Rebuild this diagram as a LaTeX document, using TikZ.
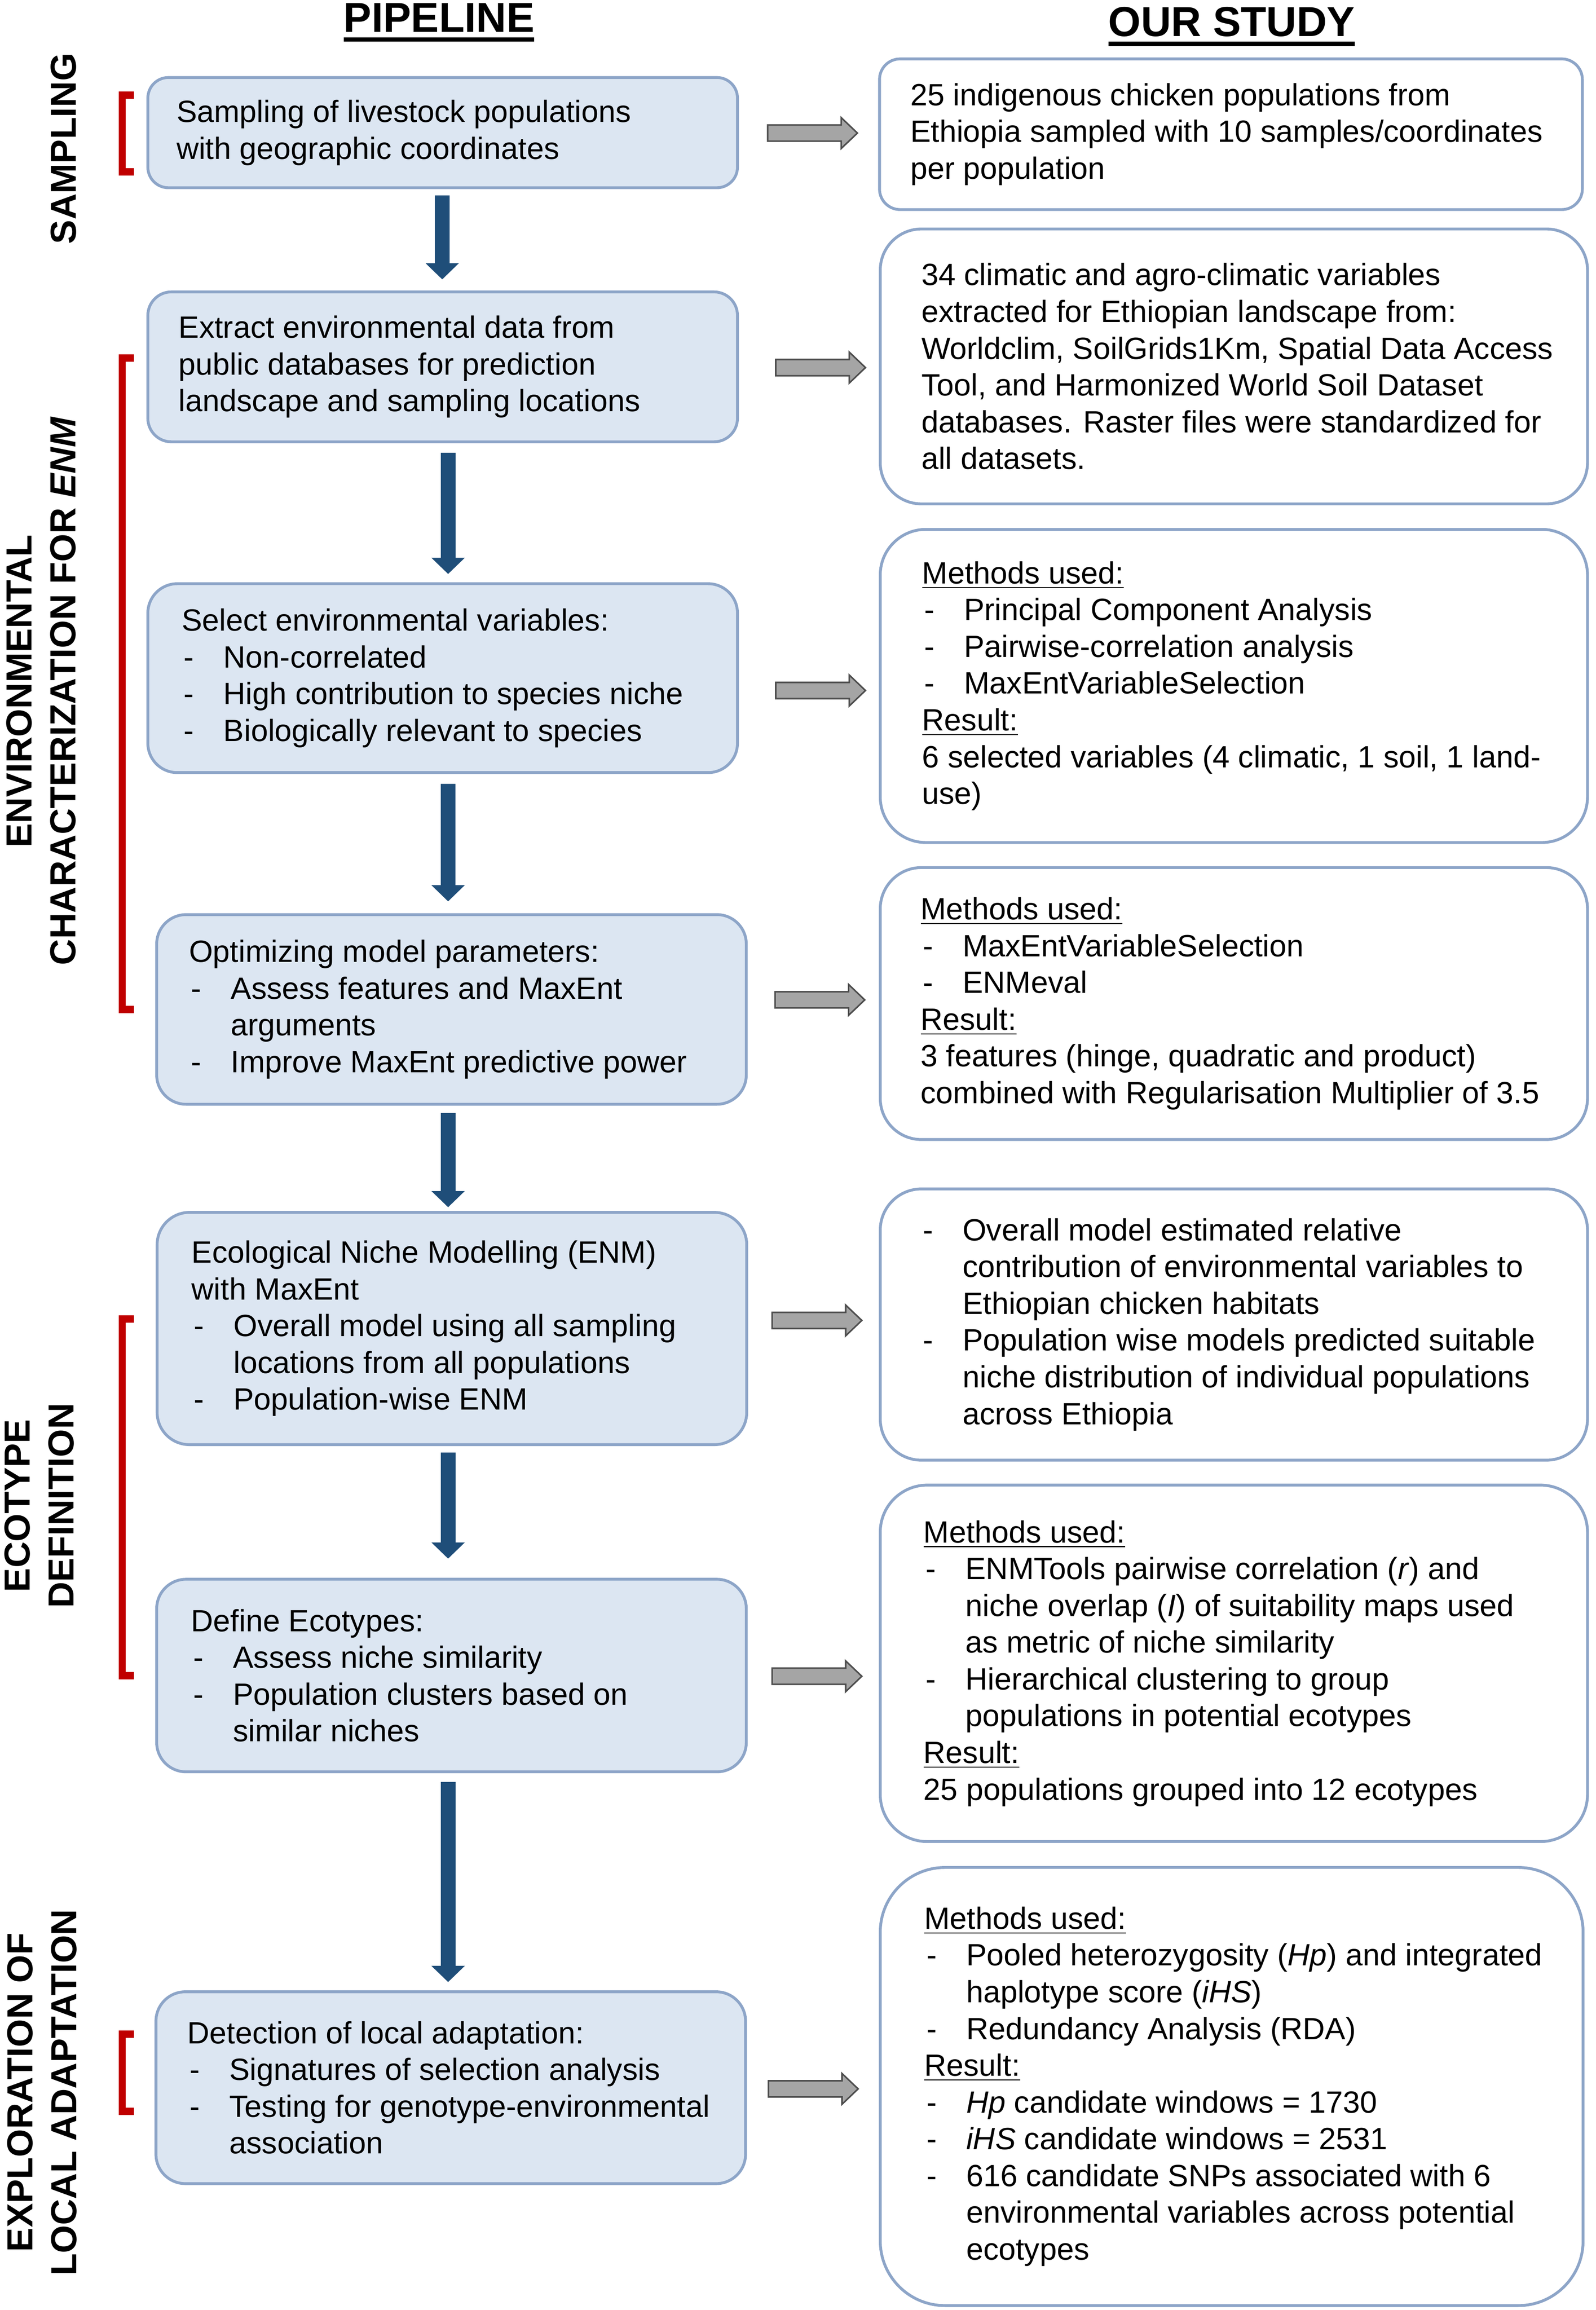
\documentclass[tikz,border=0pt]{standalone}
\usepackage{fontspec}
\setmainfont{Liberation Sans}
\usetikzlibrary{arrows.meta,calc}
\definecolor{lfill}{HTML}{DCE6F2}
\definecolor{bline}{HTML}{8DA5C8}
\definecolor{navy}{HTML}{1F4E79}
\definecolor{bred}{HTML}{C00000}
\definecolor{gfill}{HTML}{A5A5A5}
\definecolor{gline}{HTML}{4D4D4D}
\newcommand\bu{\makebox[0.57cm][l]{\hspace{0.03cm}-}}
\newcommand\ii{\hspace*{0.57cm}}
\newcommand\ul[1]{\underline{#1}}
\newcommand\garrow[2]{\draw[garr] (#1,#2) ++(0,-5.5) -- ++(50,0) -- ++(0,-5) -- ++(11,10.5) -- ++(-11,10.5) -- ++(0,-5) -- ++(-50,0) -- cycle;}
\begin{document}
\begin{tikzpicture}[x=0.02cm,y=-0.02cm,
 every node/.style={inner sep=0pt, outer sep=0pt},
 lbox/.style={draw=bline, line width=1.1pt, fill=lfill, minimum width=8.02cm},
 rbox/.style={draw=bline, line width=1.1pt, fill=white, minimum width=9.62cm},
 txt/.style={anchor=west, align=left, font=\fontsize{11.9}{14.23}\selectfont},
 side/.style={rotate=90, align=center, font=\fontsize{14}{17}\selectfont\bfseries},
 hdr/.style={anchor=base, font=\fontsize{16.2}{19}\selectfont\bfseries},
 barr/.style={draw=navy, line width=0.2cm, -{Triangle[width=0.44cm,length=0.22cm]}},
 garr/.style={draw=gline, fill=gfill, line width=0.6pt, line join=miter},
 brk/.style={draw=bred, line width=0.1cm, line join=miter}
]
\useasboundingbox (0,0) rectangle (1085,1571);

% headers
\node[hdr] (hP) at (298.5,21.8) {PIPELINE};
\draw[line width=1.7pt] ([yshift=-0.1cm]hP.base west) -- ([yshift=-0.1cm]hP.base east);
\node[hdr] (hS) at (837.5,24.8) {OUR STUDY};
\draw[line width=1.7pt] ([yshift=-0.1cm]hS.base west) -- ([yshift=-0.1cm]hS.base east);

% side labels
\node[side] (sSam) at (43.3,101) {SAMPLING};
\node[side] (sEnv) at (28,470) {ENVIRONMENTAL\\CHARACTERIZATION FOR \textit{ENM}};
\node[side] (sEco) at (26.6,1024) {ECOTYPE\\DEFINITION};
\node[side] (sExp) at (28.6,1423) {EXPLORATION OF\\LOCAL ADAPTATION};

% brackets
\draw[brk] (91,64.8) -- (83.1,64.8) -- (83.1,117) -- (91,117);
\draw[brk] (91,243.5) -- (83.1,243.5) -- (83.1,686.5) -- (91,686.5);
\draw[brk] (91,896.9) -- (83.1,896.9) -- (83.1,1139.5) -- (91,1139.5);
\draw[brk] (91,1383.5) -- (83.1,1383.5) -- (83.1,1436) -- (91,1436);

% left pipeline boxes
\node[lbox, minimum height=1.50cm, rounded corners=0.28cm] (L1) at (301,90.2) {};
\node[txt] (L1t) at ($(L1.west)+(19.5,0)$) {Sampling of livestock populations\\with geographic coordinates};

\node[lbox, minimum height=2.04cm, rounded corners=0.32cm] (L2) at (301,249.5) {};
\node[txt] (L2t) at ($(L2.west)+(21,0)$) {Extract environmental data from\\public databases for prediction\\landscape and sampling locations};

\node[lbox, minimum height=2.57cm, rounded corners=0.40cm] (L3) at (301,461.2) {};
\node[txt] (L3t) at ($(L3.west)+(23,0)$) {Select environmental variables:\\\bu Non-correlated\\\bu High contribution to species niche\\\bu Biologically relevant to species};

\node[lbox, minimum height=2.58cm, rounded corners=0.40cm] (L4) at (307,686.5) {};
\node[txt] (L4t) at ($(L4.west)+(22,0)$) {Optimizing model parameters:\\\bu Assess features and MaxEnt\\\ii arguments\\\bu Improve MaxEnt predictive power};

\node[lbox, minimum height=3.16cm, rounded corners=0.44cm] (L5) at (307.3,903.5) {};
\node[txt] (L5t) at ($(L5.west)+(23.5,0)$) {Ecological Niche Modelling (ENM)\\with MaxEnt\\\bu Overall model using all sampling\\\ii locations from all populations\\\bu Population-wise ENM};

\node[lbox, minimum height=2.62cm, rounded corners=0.40cm] (L6) at (307,1139.5) {};
\node[txt] (L6t) at ($(L6.west)+(23.5,0)$) {Define Ecotypes:\\\bu Assess niche similarity\\\bu Population clusters based on\\\ii similar niches};

\node[lbox, minimum height=2.61cm, rounded corners=0.40cm] (L7) at (306.5,1419.8) {};
\node[txt] (L7t) at ($(L7.west)+(21.5,0)$) {Detection of local adaptation:\\\bu Signatures of selection analysis\\\bu Testing for genotype-environmental\\\ii association};

% right study boxes
\node[rbox, minimum width=9.56cm, minimum height=2.05cm, rounded corners=0.28cm] (R1) at (837,91.3) {};
\node[txt] (R1t) at ($(R1.west)+(21,0)$) {25 indigenous chicken populations from\\Ethiopia sampled with 10 samples/coordinates\\per population};

\node[rbox, minimum height=3.74cm, rounded corners=0.56cm] (R2) at (839,249.2) {};
\node[txt] (R2t) at ($(R2.west)+(28,0)$) {34 climatic and agro-climatic variables\\extracted for Ethiopian landscape from:\\Worldclim, SoilGrids1Km, Spatial Data Access\\Tool, and Harmonized World Soil Dataset\\databases. Raster files were standardized for\\all datasets.};

\node[rbox, minimum height=4.26cm, rounded corners=0.62cm] (R3) at (839,466.5) {};
\node[txt] (R3t) at ($(R3.west)+(28.5,0)$) {\ul{Methods used:}\\\bu Principal Component Analysis\\\bu Pairwise-correlation analysis\\\bu MaxEntVariableSelection\\\ul{Result:}\\6 selected variables (4 climatic, 1 soil, 1 land-\\use)};

\node[rbox, minimum height=3.70cm, rounded corners=0.56cm] (R4) at (839,682.5) {};
\node[txt] (R4t) at ($(R4.west)+(27.5,0)$) {\ul{Methods used:}\\\bu MaxEntVariableSelection\\\bu ENMeval\\\ul{Result:}\\3 features (hinge, quadratic and product)\\combined with Regularisation Multiplier of 3.5};

\node[rbox, minimum height=3.69cm, rounded corners=0.56cm] (R5) at (839,900.8) {};
\node[txt] (R5t) at ($(R5.west)+(27.5,0)$) {\bu Overall model estimated relative\\\ii contribution of environmental variables to\\\ii Ethiopian chicken habitats\\\bu Population wise models predicted suitable\\\ii niche distribution of individual populations\\\ii across Ethiopia};

\node[rbox, minimum height=4.85cm, rounded corners=0.64cm] (R6) at (839,1131.2) {};
\node[txt] (R6t) at ($(R6.west)+(29.5,0)$) {\ul{Methods used:}\\\bu ENMTools pairwise correlation (\textit{r}) and\\\ii niche overlap (\textit{I}) of suitability maps used\\\ii as metric of niche similarity\\\bu Hierarchical clustering to group\\\ii populations in potential ecotypes\\\ul{Result:}\\25 populations grouped into 12 ecotypes};

\node[rbox, minimum width=9.56cm, minimum height=5.96cm, rounded corners=0.88cm] (R7) at (837.5,1419) {};
\node[txt] (R7t) at ($(R7.west)+(30,0)$) {\ul{Methods used:}\\\bu Pooled heterozygosity (\textit{Hp}) and integrated\\\ii haplotype score (\textit{iHS})\\\bu Redundancy Analysis (RDA)\\\ul{Result:}\\\bu \textit{Hp} candidate windows = 1730\\\bu \textit{iHS} candidate windows = 2531\\\bu 616 candidate SNPs associated with 6\\\ii environmental variables across potential\\\ii ecotypes};

% blue pipeline arrows
\draw[barr] ($(L1.south)+(-0.3,5.3)$) -- ($(L2.north)+(-0.3,-8.5)$);
\draw[barr] ($(L2.south)+(3.7,7.5)$) -- ($(L3.north)+(3.7,-6.6)$);
\draw[barr] ($(L3.south)+(3.7,7.6)$) -- ($(L4.north)+(-2.3,-9)$);
\draw[barr] ($(L4.south)+(-2.3,6)$) -- ($(L5.north)+(-2.6,-3.5)$);
\draw[barr] ($(L5.south)+(-2.6,5.5)$) -- ($(L6.north)+(-2.3,-14)$);
\draw[barr] ($(L6.south)+(-2.3,7)$) -- ($(L7.north)+(-1.8,-6.6)$);

% gray block arrows
\garrow{522}{90.5}
\garrow{527.5}{250}
\garrow{527.5}{469.6}
\garrow{527}{680}
\garrow{525}{898}
\garrow{525}{1140}
\garrow{522.5}{1420.6}
\end{tikzpicture}
\end{document}
